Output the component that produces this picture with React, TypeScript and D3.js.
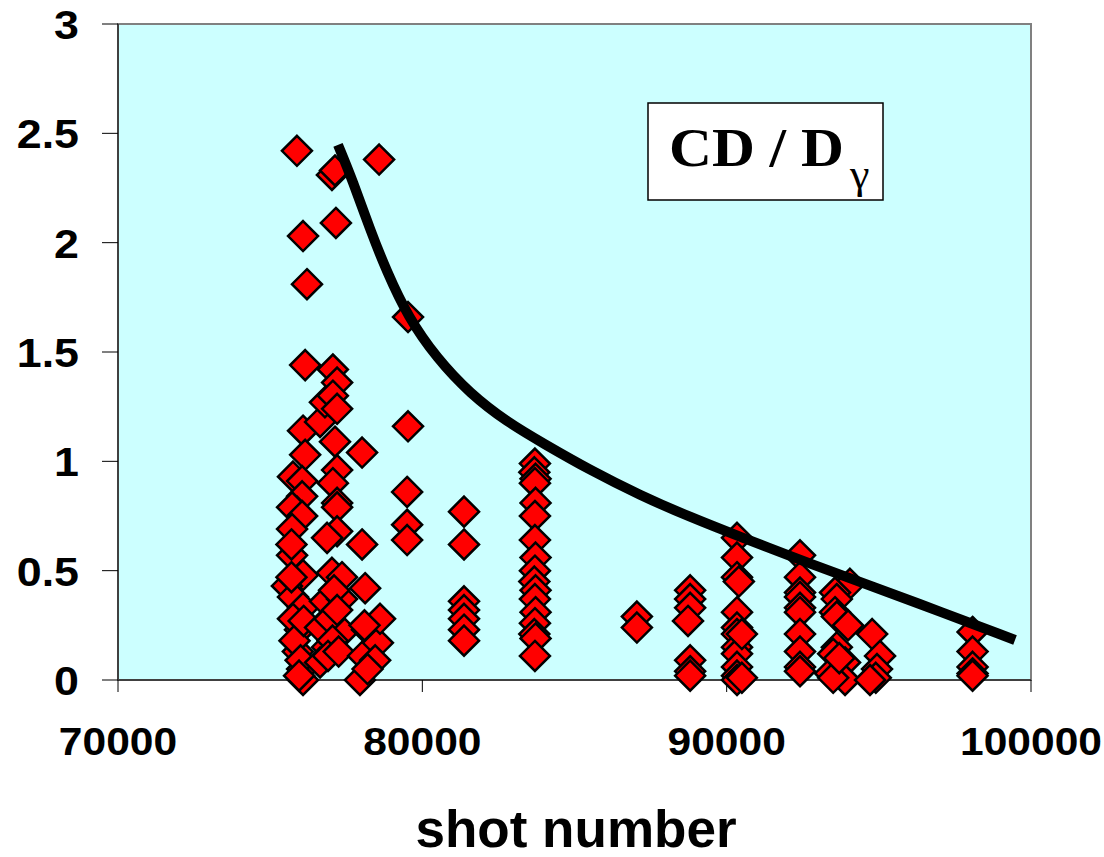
import React from "react";
import * as d3 from "d3";

// Shot numbers and CD / D_gamma ratio
const shotNumbers: number[] = [
  75880, 76080, 76210, 76150, 76080, 76150, 75750, 76050, 76050, 75880, 75720, 76050, 75720, 75720,
  76080, 75550, 75750, 76080, 75980, 75910, 76050, 76080, 75700, 75750, 75800, 76000, 75700, 75950, 76100,
  76640, 76800, 76870, 76640, 76640, 76800, 77030, 77130, 77160, 77060, 77200, 77060, 77200, 77130,
  77200, 77060, 77200, 77200, 77200, 76870, 77030, 77360, 77360, 77390, 77100, 76950, 77050, 76900, 77200, 77250,
  78020, 78020, 78120, 78050, 77950, 78180, 78540, 78610, 78450, 78580, 78100, 78200,
  79530, 79530, 79500, 79500, 79500,
  81370, 81370, 81370, 81370, 81370, 81370, 81370,
  83700, 83680, 83720, 83700, 83720, 83700, 83700, 83720, 83700, 83680, 83720, 83700, 83720, 83700, 83680, 83720, 83700,
  87050, 87050,
  88800, 88800, 88800, 88730, 88800, 88800, 88800,
  90340, 90340, 90340, 90340, 90340, 90340, 90340, 90340, 90340, 90340, 90340, 90500, 90500, 90400,
  92410, 92410, 92410, 92410, 92410, 92410, 92410, 92410, 92410, 92410,
  94050, 93560, 93620, 93560, 93620, 93990, 93620, 93500, 93890, 93400, 93890, 93500, 93700,
  94780, 95040, 94940, 94900, 94710,
  98080, 98080, 98080, 98080, 98080,
];
const cdRatio: number[] = [
  2.42, 2.03, 1.81, 1.44, 1.14, 1.03, 0.93, 0.91, 0.84, 0.77, 0.79, 0.75, 0.69, 0.57,
  0.48, 0.43, 0.38, 0.33, 0.23, 0.13, 0.05, 0.0, 0.62, 0.28, 0.18, 0.09, 0.47, 0.02, 0.27,
  0.24, 0.36, 0.15, 0.08, 1.18, 1.27, 2.31, 2.33, 2.09, 1.42, 1.36, 1.3, 1.24, 1.09,
  0.96, 0.9, 0.81, 0.79, 0.68, 0.65, 0.49, 0.47, 0.37, 0.22, 0.41, 0.28, 0.18, 0.11, 0.32, 0.13,
  1.04, 0.62, 0.42, 0.11, 0.0, 0.23, 0.17, 0.28, 0.09, 2.38, 0.25, 0.05,
  1.66, 1.16, 0.86, 0.71, 0.64,
  0.77, 0.62, 0.36, 0.32, 0.28, 0.23, 0.18,
  0.99, 0.95, 0.92, 0.9, 0.81, 0.75, 0.64, 0.56, 0.5, 0.45, 0.41, 0.37, 0.31, 0.26, 0.21, 0.19, 0.11,
  0.29, 0.24,
  0.41, 0.37, 0.33, 0.27, 0.09, 0.04, 0.02,
  0.65, 0.56, 0.47, 0.31, 0.24, 0.21, 0.15, 0.12, 0.06, 0.02, 0.0, 0.21, 0.01, 0.45,
  0.57, 0.47, 0.4, 0.38, 0.33, 0.31, 0.21, 0.13, 0.06, 0.04,
  0.44, 0.4, 0.37, 0.31, 0.29, 0.25, 0.15, 0.12, 0.08, 0.03, 0.0, 0.01, 0.1,
  0.21, 0.11, 0.05, 0.01, 0.0,
  0.22, 0.13, 0.06, 0.03, 0.02,
];

// Fitted trend curve
const fitShots: number[] = [77229, 77722, 78281, 78839, 79529, 80482, 81566, 82782, 84000, 85510, 87153, 88796, 90439, 92312, 93955, 96123, 99475];
const fitValues: number[] = [2.447, 2.28, 2.06, 1.865, 1.66, 1.47, 1.31, 1.18, 1.08, 0.96, 0.845, 0.745, 0.655, 0.555, 0.47, 0.36, 0.183];

const xTicks: number[] = [70000, 80000, 90000, 100000];
const yTicks: number[] = [0, 0.5, 1, 1.5, 2, 2.5, 3];

const W = 1104;
const H = 857;

export default function App() {
  const x = d3.scaleLinear().domain([70000, 100000]).range([118, 1031]);
  const y = d3.scaleLinear().domain([0, 3]).range([680, 24]);
  const line = d3
    .line<number>()
    .x((_, i) => x(fitShots[i]))
    .y((d) => y(d))
    .curve(d3.curveBasis);
  const diamond = "M0,-15L15,0L0,15L-15,0Z";
  const sans = "'Liberation Sans', Arial, sans-serif";
  const serif = "'Liberation Serif', 'Times New Roman', serif";

  return (
    <svg width={W} height={H} style={{ position: "absolute", left: 0, top: 0 }}>
      <rect x={0} y={0} width={W} height={H} fill="#ffffff" />
      <rect x={118} y={24} width={913} height={656} fill="#ccffff" stroke="#808080" strokeWidth={2} />
      {/* axes */}
      <line x1={118} y1={24} x2={118} y2={680} stroke="#404040" strokeWidth={2} />
      <line x1={118} y1={680} x2={1031} y2={680} stroke="#404040" strokeWidth={2} />
      {yTicks.map((t) => (
        <g key={"y" + t}>
          <line x1={102} x2={118} y1={y(t)} y2={y(t)} stroke="#000" strokeWidth={1} />
          <text
            transform={`translate(79,${y(t) + 15}) scale(1.12,1)`}
            textAnchor="end"
            fontFamily={sans}
            fontWeight="bold"
            fontSize={40}
            fill="#000"
          >
            {String(t)}
          </text>
        </g>
      ))}
      {xTicks.map((t) => (
        <g key={"x" + t}>
          <line x1={x(t)} x2={x(t)} y1={680} y2={692} stroke="#000" strokeWidth={1} />
          <text
            transform={`translate(${x(t)},755) scale(1.12,1)`}
            textAnchor="middle"
            fontFamily={sans}
            fontWeight="bold"
            fontSize={38}
            fill="#000"
          >
            {String(t)}
          </text>
        </g>
      ))}
      <text
        transform={`translate(576,847) scale(1.04,1)`}
        textAnchor="middle"
        fontFamily={sans}
        fontWeight="bold"
        fontSize={51}
        fill="#000"
      >
        shot number
      </text>
      {/* points */}
      {shotNumbers.map((s, i) => (
        <path
          key={"p" + i}
          d={diamond}
          transform={`translate(${x(s)},${y(cdRatio[i])})`}
          fill="#ff0000"
          stroke="#000"
          strokeWidth={2.5}
          strokeLinejoin="miter"
        />
      ))}
      {/* trend curve */}
      <path d={line(fitValues) || ""} fill="none" stroke="#000" strokeWidth={10} />
      {/* label */}
      <rect x={648} y={103} width={235} height={97} fill="#ffffff" stroke="#000" strokeWidth={1.5} />
      <text transform="translate(669,166) scale(1.1,1)" fontFamily={serif} fontWeight="bold" fontSize={54} fill="#000">
        CD / D
      </text>
      <text transform="translate(850,188) scale(1.1,1)" fontFamily={serif} fontSize={40} fill="#000">
        γ
      </text>
    </svg>
  );
}
